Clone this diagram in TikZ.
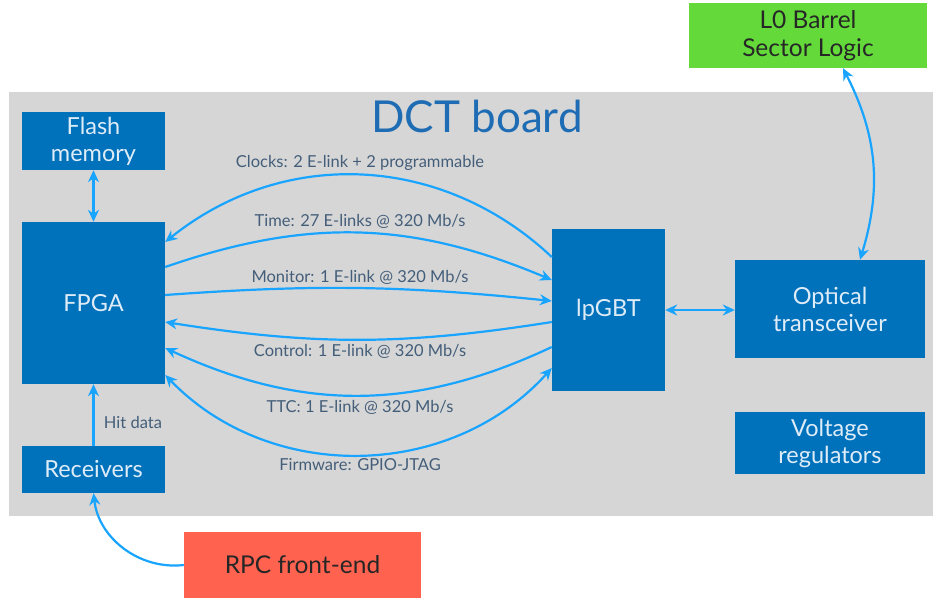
\documentclass[tikz,border=0pt]{standalone}
\usepackage{fontspec}
\setmainfont{Lato}
\usepackage{tikz}
\usetikzlibrary{arrows.meta}

\definecolor{azulbloco}{RGB}{0,113,187}
\definecolor{azullink}{RGB}{24,164,255}
\definecolor{cinzaplaca}{RGB}{214,214,214}
\definecolor{textobloco}{RGB}{222,236,248}
\definecolor{textorotulo}{RGB}{68,94,122}
\definecolor{azultitulo}{RGB}{30,108,180}
\definecolor{verdesl}{RGB}{99,218,58}
\definecolor{vermelhorpc}{RGB}{255,99,79}

\begin{document}
\begin{tikzpicture}[x=1pt, y=-1pt, >={Stealth[length=12pt,width=11pt]},
    bloco/.style={fill=azulbloco, text=textobloco, font=\fontsize{23.5}{27}\selectfont, align=center, inner sep=0pt},
    externo/.style={text=black!85, font=\fontsize{24.5}{28}\selectfont, align=center, inner sep=0pt},
    ligacao/.style={draw=azullink, line width=2.2pt},
    rotulo/.style={text=textorotulo, font=\fontsize{16.5}{18}\selectfont}]
    \useasboundingbox (0,0) rectangle (934,598);

    % Placa DCT
    \node[fill=cinzaplaca, minimum width=924pt, minimum height=424pt, inner sep=0pt] (placa) at (471,304) {};
    \node[text=azultitulo, font=\fontsize{44}{46}\selectfont] (titulo) at (477,116) {DCT board};

    % Blocos
    \node[bloco, minimum width=143pt, minimum height=58pt] (flash) at (93.5,141) {Flash\\memory};
    \node[bloco, minimum width=143pt, minimum height=162pt] (fpga) at (93.5,303) {FPGA};
    \node[bloco, minimum width=143pt, minimum height=47pt] (receivers) at (93.5,469.5) {Receivers};
    \node[bloco, minimum width=113pt, minimum height=162pt] (lpgbt) at (608.5,310) {lpGBT};
    \node[bloco, minimum width=190pt, minimum height=98pt] (optical) at (830,309) {Optical\\transceiver};
    \node[bloco, minimum width=190pt, minimum height=62pt] (voltage) at (830,443) {Voltage\\regulators};

    % Blocos externos
    \node[externo, fill=verdesl, minimum width=238pt, minimum height=65pt] (l0) at (808,35.5) {L0 Barrel\\Sector Logic};
    \node[externo, fill=vermelhorpc, minimum width=237pt, minimum height=66pt] (rpc) at (302.5,565) {RPC front-end};

    % E-links FPGA - lpGBT
    \draw[ligacao,->] ([yshift=53pt]lpgbt.west) to[bend right=41] ([yshift=61pt]fpga.east);
    \node[rotulo] (clocks) at (360,163) {Clocks: 2 E-link + 2 programmable};
    \draw[ligacao,->] ([yshift=36pt]fpga.east) to[bend left=21] ([yshift=30pt]lpgbt.west);
    \node[rotulo] (time) at (360,221) {Time: 27 E-links @ 320 Mb/s};
    \draw[ligacao,->] ([yshift=8pt]fpga.east) to[bend left=5] ([yshift=9pt]lpgbt.west);
    \node[rotulo] (monitor) at (360,277) {Monitor: 1 E-link @ 320 Mb/s};
    \draw[ligacao,->] ([yshift=-12pt]lpgbt.west) to[bend left=9] ([yshift=-19pt]fpga.east);
    \node[rotulo] (control) at (360,351) {Control: 1 E-link @ 320 Mb/s};
    \draw[ligacao,->] ([yshift=-37pt]lpgbt.west) to[bend left=25] ([yshift=-45pt]fpga.east);
    \node[rotulo] (ttc) at (360,407) {TTC: 1 E-link @ 320 Mb/s};
    \draw[ligacao,<->] ([yshift=-72pt]fpga.east) to[bend right=47] ([yshift=-58pt]lpgbt.west);
    \node[rotulo] (firmware) at (360,465) {Firmware: GPIO-JTAG};

    % Outras ligacoes
    \draw[ligacao,<->] (flash.south) -- (fpga.north);
    \draw[ligacao,->] (receivers.north) -- (fpga.south) node[rotulo, midway, right=6pt, yshift=-7pt] {Hit data};
    \draw[ligacao,<->] (lpgbt.east) -- (lpgbt.east -| optical.west);
    \draw[ligacao,<->] ([xshift=30pt]optical.north) to[bend right=22] ([xshift=35pt]l0.south);
    \draw[ligacao,->] (rpc.west) to[bend left=45] (receivers.south);
\end{tikzpicture}
\end{document}
